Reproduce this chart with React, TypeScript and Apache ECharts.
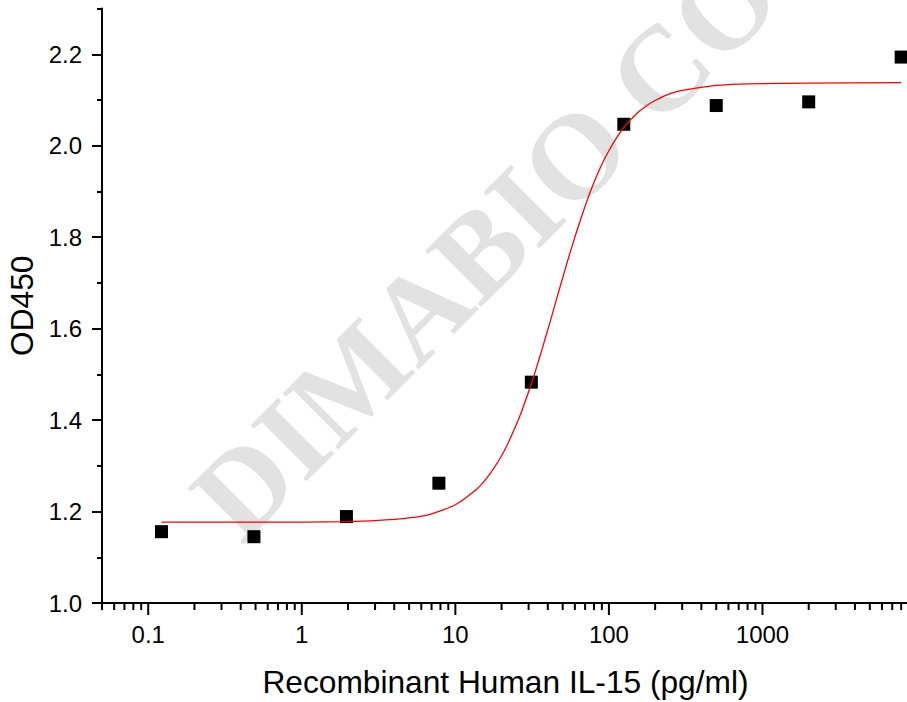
import React, { useEffect, useRef } from "react";
import * as echarts from "echarts";

// Measured points (concentration pg/ml, OD450)
const concentrations = [0.122, 0.488, 1.953, 7.8125, 31.25, 125, 500, 2000, 8000];
const od450 = [1.156, 1.145, 1.189, 1.262, 1.483, 2.047, 2.088, 2.096, 2.194];

// Fitted curve
const fitX = [0.122, 0.5, 1, 2, 3, 5, 7, 10, 14, 16, 18, 20, 22, 25, 27, 30, 32, 35, 37, 40, 42, 45, 50, 55, 60, 65, 70, 77, 85, 92, 100, 110, 125, 150, 175, 200, 250, 300, 500, 700, 1000, 2000, 8000];
const fitY = [1.177, 1.177, 1.177, 1.178, 1.18, 1.186, 1.195, 1.215, 1.251, 1.273, 1.297, 1.322, 1.349, 1.391, 1.419, 1.462, 1.49, 1.532, 1.559, 1.598, 1.622, 1.658, 1.711, 1.759, 1.8, 1.836, 1.868, 1.906, 1.941, 1.966, 1.989, 2.013, 2.04, 2.069, 2.087, 2.099, 2.114, 2.121, 2.132, 2.135, 2.136, 2.137, 2.138];

// Tick values
const xMajorTicks = [0.1, 1, 10, 100, 1000];
const xMinorTicks = [
  0.05, 0.06, 0.07, 0.08, 0.09,
  0.2, 0.3, 0.4, 0.5, 0.6, 0.7, 0.8, 0.9,
  2, 3, 4, 5, 6, 7, 8, 9,
  20, 30, 40, 50, 60, 70, 80, 90,
  200, 300, 400, 500, 600, 700, 800, 900,
  2000, 3000, 4000, 5000, 6000, 7000, 8000, 9000,
];
const yMajorTicks = [1.0, 1.2, 1.4, 1.6, 1.8, 2.0, 2.2];

const xAxisTitle = "Recombinant Human IL-15 (pg/ml)";
const yAxisTitle = "OD450";
const watermarkText = "DIMABIO CO.,LTD";

const FONT = "'Liberation Sans', Arial, sans-serif";

function tickSeries(values: number[], len: number, name: string) {
  return {
    name,
    type: "custom",
    silent: true,
    clip: false,
    z: 4,
    data: values.map((v) => [v, 1.0]),
    renderItem: (_params: any, api: any) => {
      const p = api.coord([api.value(0), api.value(1)]);
      return {
        type: "line",
        shape: { x1: p[0], y1: p[1], x2: p[0], y2: p[1] + len },
        style: { stroke: "#000", lineWidth: 2 },
      };
    },
  };
}

export default function App() {
  const ref = useRef<HTMLDivElement>(null);

  useEffect(() => {
    if (!ref.current) return;
    const chart = echarts.init(ref.current, null, { renderer: "svg" });
    const option: any = {
      animation: false,
      backgroundColor: "#ffffff",
      grid: { left: 102, top: 8.6, right: -2, bottom: 99, containLabel: false, outerBoundsMode: "none" },
      graphic: [
        {
          type: "text",
          x: 213,
          y: 517,
          rotation: Math.PI / 4,
          z: -1,
          silent: true,
          style: {
            text: watermarkText,
            fontSize: 121,
            fontWeight: "bold",
            fontFamily: "'Liberation Serif', 'Times New Roman', serif",
            fill: "#e2e2e2",
            align: "left",
            verticalAlign: "middle",
          },
        },
      ],
      xAxis: {
        type: "log",
        logBase: 10,
        min: 0.05,
        max: 9000,
        position: "bottom",
        name: xAxisTitle,
        nameLocation: "middle",
        nameGap: 62.5,
        nameTextStyle: { fontSize: 31.7, color: "#000", fontFamily: FONT },
        axisLine: { show: true, onZero: false, lineStyle: { color: "#000", width: 2 } },
        axisTick: { show: false },
        axisLabel: {
          margin: 19,
          fontSize: 24,
          color: "#000",
          fontFamily: FONT,
          formatter: (v: number) => {
            const l = Math.log10(v);
            if (Math.abs(l - Math.round(l)) > 1e-6) return "";
            const r = +Math.pow(10, Math.round(l)).toPrecision(6);
            return xMajorTicks.indexOf(r) >= 0 ? String(r) : "";
          },
        },
        splitLine: { show: false },
        minorTick: { show: false },
        minorSplitLine: { show: false },
      },
      yAxis: [
        {
          type: "value",
          min: 1.0,
          max: 2.3,
          interval: 0.2,
          position: "left",
          name: yAxisTitle,
          nameLocation: "middle",
          nameGap: 64.5,
          nameTextStyle: { fontSize: 31.7, color: "#000", fontFamily: FONT },
          axisLine: { show: true, onZero: false, lineStyle: { color: "#000", width: 2 } },
          axisTick: { show: true, inside: false, length: 10, lineStyle: { color: "#000", width: 2 }, customValues: yMajorTicks },
          axisLabel: {
            customValues: yMajorTicks,
            margin: 20,
            fontSize: 24,
            color: "#000",
            fontFamily: FONT,
            formatter: (v: number) => (v > 2.25 ? "" : v.toFixed(1)),
          },
          splitLine: { show: false },
        },
        {
          type: "value",
          min: 1.0,
          max: 2.3,
          interval: 0.1,
          position: "left",
          axisLine: { show: false },
          axisTick: { show: true, inside: false, length: 5, lineStyle: { color: "#000", width: 2 } },
          axisLabel: { show: false },
          splitLine: { show: false },
        },
      ],
      series: [
        {
          name: "OD450",
          type: "scatter",
          symbol: "rect",
          symbolSize: 13,
          itemStyle: { color: "#000", opacity: 1 },
          z: 2,
          data: concentrations.map((c, i) => [c, od450[i]]),
        },
        {
          name: "Fit",
          type: "line",
          showSymbol: false,
          symbol: "none",
          smooth: 0.2,
          lineStyle: { color: "#ff0000", width: 1.3 },
          z: 3,
          data: fitX.map((x, i) => [x, fitY[i]]),
        },
        tickSeries(xMajorTicks, 12, "xMajor"),
        tickSeries(xMinorTicks, 7, "xMinor"),
      ],
    };
    chart.setOption(option);
    return () => chart.dispose();
  }, []);

  return (
    <div
      ref={ref}
      style={{ position: "fixed", left: 0, top: 0, width: 907, height: 702, background: "#fff" }}
    />
  );
}
